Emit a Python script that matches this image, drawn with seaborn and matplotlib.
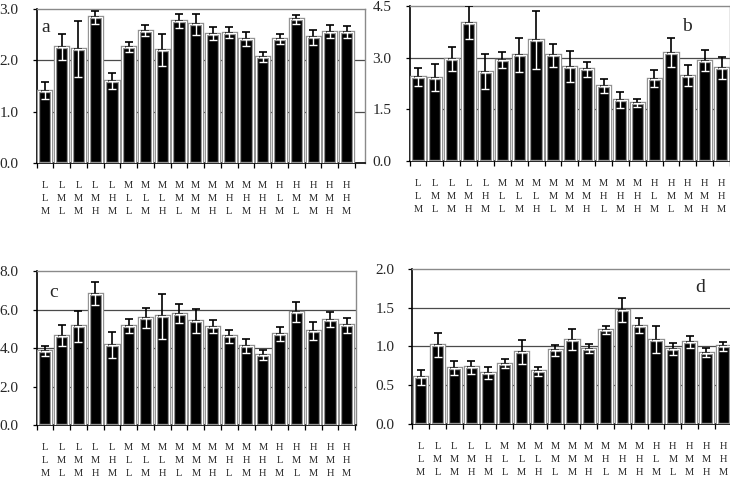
import numpy as np
import pandas as pd
import matplotlib
matplotlib.use("Agg")
import matplotlib.pyplot as plt
import seaborn as sns
from matplotlib.ticker import FixedLocator

row1 = list("LLLLLMMMMMMMMMHHHHH")
row2 = list("LMMMHLLLMMMHHHLMMMH")
row3 = list("MLMHMLMHLMHLMHMLMHM")
categories = [f"{a}\n{b}\n{c}" for a, b, c in zip(row1, row2, row3)]

values_a = [1.41, 2.26, 2.22, 2.84, 1.60, 2.26, 2.58, 2.20, 2.77, 2.70, 2.52, 2.54, 2.42, 2.06, 2.42, 2.80, 2.45, 2.56, 2.55]
err_a = [0.16, 0.26, 0.55, 0.13, 0.16, 0.09, 0.10, 0.32, 0.14, 0.20, 0.12, 0.11, 0.14, 0.10, 0.10, 0.09, 0.15, 0.13, 0.11]
values_b = [2.44, 2.42, 2.95, 4.02, 2.59, 2.93, 3.08, 3.51, 3.07, 2.74, 2.66, 2.17, 1.77, 1.69, 2.39, 3.14, 2.48, 2.91, 2.69]
err_b = [0.25, 0.39, 0.35, 0.48, 0.51, 0.24, 0.49, 0.84, 0.34, 0.46, 0.21, 0.20, 0.22, 0.12, 0.25, 0.42, 0.30, 0.31, 0.32]
values_c = [3.85, 4.65, 5.13, 6.82, 4.15, 5.13, 5.58, 5.66, 5.79, 5.39, 5.10, 4.61, 4.11, 3.66, 4.75, 5.87, 4.89, 5.48, 5.18]
err_c = [0.26, 0.55, 0.80, 0.59, 0.67, 0.36, 0.52, 1.17, 0.50, 0.62, 0.34, 0.33, 0.36, 0.26, 0.36, 0.52, 0.48, 0.41, 0.40]
values_d = [0.60, 1.02, 0.72, 0.73, 0.66, 0.78, 0.93, 0.68, 0.95, 1.09, 0.97, 1.21, 1.47, 1.27, 1.09, 0.97, 1.06, 0.92, 1.00]
err_d = [0.10, 0.15, 0.09, 0.08, 0.08, 0.06, 0.15, 0.06, 0.07, 0.14, 0.06, 0.05, 0.15, 0.10, 0.17, 0.08, 0.08, 0.06, 0.06]

panel_labels = ["a", "b", "c", "d"]
yticks_a = [0.0, 1.0, 2.0, 3.0]
yticks_b = [0.0, 1.5, 3.0, 4.5]
yticks_c = [0.0, 2.0, 4.0, 6.0, 8.0]
yticks_d = [0.0, 0.5, 1.0, 1.5, 2.0]

sns.set_style("white")
plt.rcParams["font.family"] = ["Liberation Serif", "DejaVu Serif"]

fig = plt.figure(figsize=(7.3, 4.96), dpi=100)

panels = [
    (values_a, err_a, yticks_a, "a", [0.0501, 0.6714, 0.4499, 0.3105], 19.1, (0.016, 0.877)),
    (values_b, err_b, yticks_b, "b", [0.5611, 0.6754, 0.4389, 0.3125], 18.5, (0.867, 0.87)),
    (values_c, err_c, yticks_c, "c", [0.0501, 0.1431, 0.4375, 0.3105], 18.55, (0.053, 0.86)),
    (values_d, err_d, yticks_d, "d", [0.5648, 0.1452, 0.4375, 0.3125], 18.5, (0.90, 0.88)),
]

for vals, errs, yt, lab, pos, xmax, lpos in panels:
    ax = fig.add_axes(pos)
    df = pd.DataFrame({"cat": categories, "val": vals})
    x = np.arange(len(categories))
    sns.barplot(data=df, x="cat", y="val", order=categories, color="black",
                width=0.78, edgecolor="#8f8f8f", linewidth=2.4, saturation=1,
                errorbar=None, ax=ax, zorder=3)
    sns.barplot(data=df, x="cat", y="val", order=categories, facecolor="none",
                width=0.78, edgecolor="white", linewidth=0.8,
                errorbar=None, ax=ax, zorder=4)
    errs = np.array(errs)
    zeros = np.zeros_like(errs)
    ax.errorbar(x, vals, yerr=[zeros, errs], fmt="none", ecolor="black",
                elinewidth=1.2, capsize=3, capthick=1.2, zorder=5)
    ax.errorbar(x, vals, yerr=[errs, zeros], fmt="none", ecolor="white",
                elinewidth=1.0, capsize=3, capthick=1.0, zorder=6)

    ax.set_xlim(-0.5, xmax)
    ax.set_ylim(yt[0], yt[-1])
    ax.set_yticks(yt)
    ax.set_yticklabels([f"{t:.1f}" for t in yt], fontsize=11)
    ax.set_xticks(x)
    ax.set_xticklabels(categories, fontsize=7.5, linespacing=1.55)
    ax.xaxis.set_minor_locator(FixedLocator(np.arange(len(categories) + 1) - 0.5))
    ax.tick_params(axis="x", which="major", length=0, pad=13)
    ax.tick_params(axis="x", which="minor", length=3.5, width=0.9, color="black", direction="out", bottom=True)
    ax.tick_params(axis="y", which="major", length=3, width=0.9, color="black", direction="out", left=True, pad=10)
    ax.set_xlabel("")
    ax.set_ylabel("")
    for yv in yt[1:-1]:
        ax.axhline(yv, color="#4a4a4a", linewidth=0.9, zorder=1)
    for s in ["top", "right"]:
        ax.spines[s].set_visible(True)
        ax.spines[s].set_color("#8a8a8a")
        ax.spines[s].set_linewidth(1.0)
    for s in ["left", "bottom"]:
        ax.spines[s].set_visible(True)
        ax.spines[s].set_color("black")
        ax.spines[s].set_linewidth(1.2)
    ax.text(lpos[0], lpos[1], lab, transform=ax.transAxes, fontsize=14,
            ha="left" if lab in "a" else "center", va="center", zorder=7)

fig.savefig("out.png", dpi=100)
